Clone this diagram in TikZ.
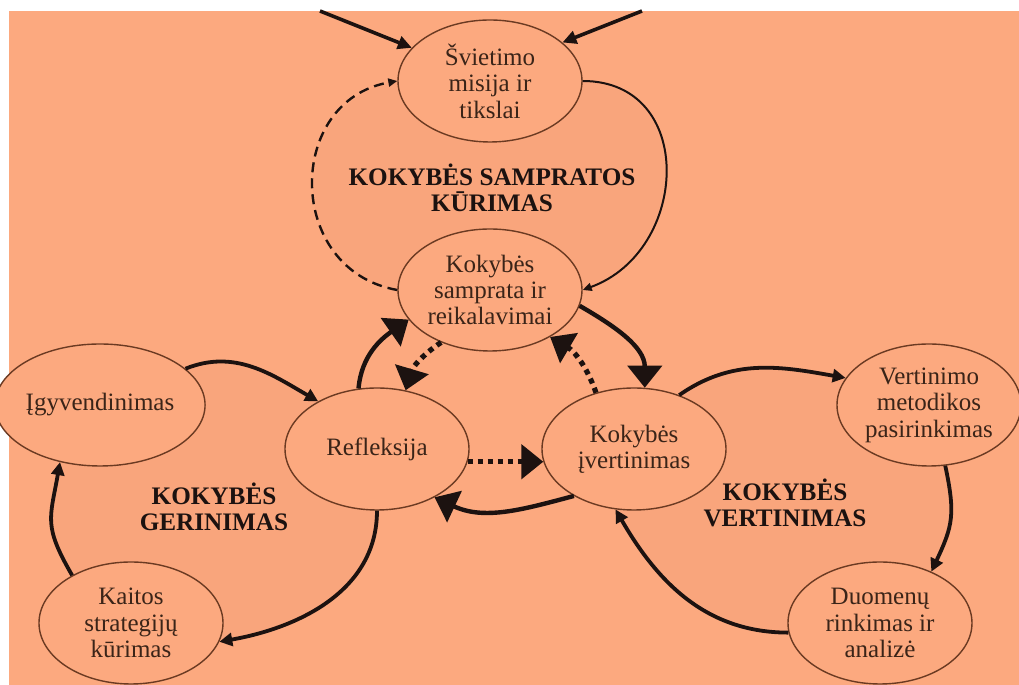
\documentclass[tikz,border=0pt]{standalone}
\usepackage{fontspec}
\setmainfont{Liberation Serif}
\usetikzlibrary{shapes.geometric,arrows.meta,backgrounds}
\definecolor{salmon}{HTML}{FCA97F}
\definecolor{salmonin}{HTML}{F9A57C}
\definecolor{rim}{HTML}{6B3A22}
\definecolor{ink}{HTML}{1C1210}
\definecolor{txt}{HTML}{3A2418}

\begin{document}
\begin{tikzpicture}[x=0.5pt,y=0.5pt,
 stage/.style={ellipse, draw=rim, line width=0.7pt, fill=salmon,
   minimum width=92pt, minimum height=61pt, inner sep=0pt, align=center,
   text=txt, font=\fontsize{12.5}{13.2}\selectfont},
 title/.style={align=center, text=ink, font=\bfseries\fontsize{12.6}{13}\selectfont},
 ext/.style={draw=ink, line width=1.8pt, -{Triangle[length=7pt,width=6.5pt]}},
 fine/.style={draw=ink, line width=1pt, -{Triangle[length=4.5pt,width=4pt]}},
 dashline/.style={draw=ink, line width=1.2pt, dash pattern=on 5pt off 3pt, -{Triangle[length=4.5pt,width=4pt]}},
 cyc/.style={draw=ink, line width=1.9pt, -{Triangle[length=6.5pt,width=6.5pt]}},
 big/.style={draw=ink, line width=2.2pt, -{Triangle[length=11pt,width=17pt]}},
 dots/.style={draw=ink, line width=2.6pt, dash pattern=on 2.6pt off 2.4pt, -{Triangle[length=11pt,width=17pt]}}
]
\useasboundingbox (0,0) rectangle (1019,685);

% ellipses
\node[stage] (mis) at (490,604) {Švietimo\\misija ir\\tikslai};
\node[stage] (samp) at (490,395) {Kokybės\\samprata ir\\reikalavimai};
\node[stage] (igy) at (100,280) {Įgyvendinimas};
\node[stage] (ref) at (377,236) {Refleksija};
\node[stage] (kai) at (131,62) {Kaitos\\strategijų\\kūrimas};
\node[stage] (ivert) at (634,236) {Kokybės\\įvertinimas};
\node[stage] (met) at (929,280) {Vertinimo\\metodikos\\pasirinkimas};
\node[stage] (duom) at (880,62) {Duomenų\\rinkimas ir\\analizė};

\node[title] (tsamp) at (492,497) {KOKYBĖS SAMPRATOS\\KŪRIMAS};
\node[title] (tger) at (214,178) {KOKYBĖS\\GERINIMAS};
\node[title] (tver) at (785,182) {KOKYBĖS\\VERTINIMAS};

\begin{scope}[on background layer]
\fill[white] (0,0) rectangle (1019,685);
\fill[salmon] (9,0) rectangle (1019,674);
\fill[salmonin] (mis.east) to[out=0,in=20,looseness=1.4] (samp.east) -- (samp.west)
  to[out=170,in=190,looseness=1.4] (mis.west) -- cycle;
\fill[salmonin] (igy.23) to[out=22,in=150] (ref.141) -- (ref.south)
  to[out=-90,in=10] (kai.-12) -- (kai.141) to[out=120,in=-100,looseness=1.3] (igy.235) -- cycle;
\fill[salmonin] (ivert.50) to[out=35,in=170] (met.162) -- (met.-75)
  to[out=-78,in=65,looseness=1.2] (duom.45) -- (duom.186) to[out=180,in=-60] (ivert.253) -- cycle;
\end{scope}

% arrows from outside
\coordinate (inl) at (320,674);
\coordinate (inr) at (642,674);
\draw[ext] (inl) -- (mis.157);
\draw[ext] (inr) -- (mis.28);

% upper loop
\draw[fine] (mis.east) to[out=0,in=20,looseness=1.4] (samp.east);
\draw[dashline] (samp.west) to[out=170,in=190,looseness=1.4] (mis.west);

% middle triangle
\draw[big] (ref.107) to[out=85,in=215] (samp.200);
\draw[big] (samp.-10) to[out=-30,in=90] (ivert.80);
\draw[big] (ivert.218) to[out=195,in=-25] (ref.-40);
\draw[dots] (samp.227) to[bend right=20] (ref.64);
\draw[dots] (ivert.124) to[bend right=20] (samp.-38);
\draw[dots] (ref.-8) -- (ivert.188);

% left loop
\draw[cyc] (igy.23) to[out=22,in=150] (ref.141);
\draw[cyc] (ref.south) to[out=-90,in=10] (kai.-12);
\draw[cyc] (kai.141) to[out=120,in=-100,looseness=1.3] (igy.235);

% right loop
\draw[cyc] (ivert.50) to[out=35,in=170] (met.162);
\draw[cyc] (met.-75) to[out=-78,in=65,looseness=1.2] (duom.45);
\draw[cyc] (duom.186) to[out=180,in=-60] (ivert.253);

\end{tikzpicture}
\end{document}
